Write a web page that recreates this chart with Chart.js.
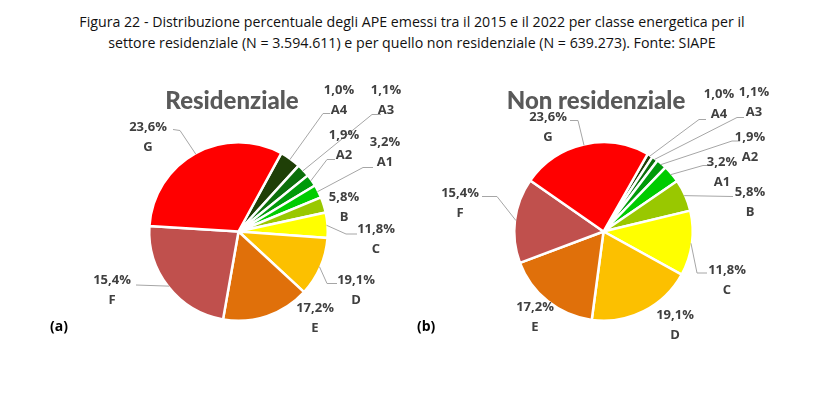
<!DOCTYPE html>
<html><head><meta charset="utf-8">
<script src="https://cdn.jsdelivr.net/npm/chart.js@4/dist/chart.umd.min.js"></script>
<style>
html,body{margin:0;padding:0;background:#fff;}
#wrap{position:relative;width:824px;height:395px;overflow:hidden;background:#fff;}
canvas{position:absolute;left:0;top:0;}
.title{position:absolute;left:0;width:824px;text-align:center;font-family:"Open Sans",sans-serif;font-size:14.2px;color:#111;white-space:nowrap;}
.tag{position:absolute;font-family:"Open Sans",sans-serif;font-weight:bold;font-size:14px;color:#000;}
.ptitle{position:absolute;font-family:"Lato",sans-serif;font-weight:900;font-size:24px;color:#595959;white-space:nowrap;transform:translateX(-50%);}
</style></head>
<body>
<div id="wrap">
<div class="title" style="top:12px">Figura 22 - Distribuzione percentuale degli APE emessi tra il 2015 e il 2022 per classe energetica per il</div>
<div class="title" style="top:33px">settore residenziale (N = 3.594.611) e per quello non residenziale (N = 639.273). Fonte: SIAPE</div>
<canvas id="ca" width="824" height="395"></canvas>
<canvas id="cb" width="824" height="395"></canvas>
<div class="ptitle" style="left:232px;top:85px">Residenziale</div>
<div class="ptitle" style="left:596px;top:85px">Non residenziale</div>
<div class="tag" style="left:50px;top:316px">(a)</div>
<div class="tag" style="left:417px;top:316px">(b)</div>
</div>
<script>
// ---- data ----
const categories = ['A4','A3','A2','A1','B','C','D','E','F','G'];
const residentialShares = [3.8, 2.4, 2.2, 2.4, 2.8, 4.6, 10.7, 15.9, 23.2, 32.0];
const nonResidentialShares = [1.0, 1.1, 1.9, 3.2, 5.8, 11.8, 19.1, 17.2, 15.4, 23.6];
// percentage labels as printed (same text on both pies in the source figure)
const printedLabels = ['1,0%','1,1%','1,9%','3,2%','5,8%','11,8%','19,1%','17,2%','15,4%','23,6%'];

// ---- styles / layout ----
const sliceColors = ['#1f3f07','#0b700b','#009a0a','#00cc00','#99c800','#ffff00','#fcc000','#e0700a','#c0504d','#ff0000'];

const layoutA = [
  {t:[339,90],  leader:[[330,113.5],[323,113.5]]},
  {t:[386,90],  leader:[[381,114.5],[372,114.5]]},
  {t:[344,135], leader:[[335,159.5],[327,159.5]]},
  {t:[385,142], leader:[[373,167.5],[363,167.5]]},
  {t:[344,197], leader:null},
  {t:[376,229], leader:[[357,234],[346,234]]},
  {t:[356,280], leader:[[337,283.5],[327,283.5]]},
  {t:[315,308], leader:null},
  {t:[112,280], leader:[[136,285]]},
  {t:[148,127], leader:[[173,129.5],[180,130.5]]}
];
const layoutB = [
  {t:[719,94],  leader:[[706,119.5],[699,119.5]]},
  {t:[754,92],  leader:[[744,117.5],[737,117.5]]},
  {t:[750,137], leader:[[740,141],[732,141]]},
  {t:[722,162], leader:[[712,165.5],[703,165.5]]},
  {t:[750,192], leader:[[733,196.5]]},
  {t:[727,270], leader:[[707,273],[697,273]]},
  {t:[675,315], leader:null},
  {t:[535,307], leader:null},
  {t:[460,193], leader:[[482,196.5],[497,196.5]]},
  {t:[548,117], leader:[[570,120.5],[578,120.5]]}
];

const pieLabels = {
  id:'pieLabels',
  afterDatasetsDraw(chart, args, opts){
    const ctx = chart.ctx;
    const meta = chart.getDatasetMeta(0);
    ctx.save();
    meta.data.forEach((arc,i)=>{
      const p = arc.getProps(['x','y','startAngle','endAngle','outerRadius'], true);
      const mid = (p.startAngle+p.endAngle)/2;
      const ex = p.x + Math.cos(mid)*(p.outerRadius-1);
      const ey = p.y + Math.sin(mid)*(p.outerRadius-1);
      const lay = opts.layout[i];
      if (lay.leader){
        ctx.strokeStyle = '#a6a6a6';
        ctx.lineWidth = 1;
        ctx.beginPath();
        ctx.moveTo(lay.leader[0][0], lay.leader[0][1]);
        for (let k=1;k<lay.leader.length;k++) ctx.lineTo(lay.leader[k][0], lay.leader[k][1]);
        ctx.lineTo(ex, ey);
        ctx.stroke();
      }
      ctx.fillStyle = '#404040';
      ctx.font = 'bold 13px "Open Sans", sans-serif';
      ctx.textAlign = 'center';
      ctx.textBaseline = 'middle';
      ctx.fillText(opts.texts[i], lay.t[0], lay.t[1]);
      ctx.fillText(chart.data.labels[i], lay.t[0], lay.t[1]+20);
    });
    ctx.restore();
  }
};

function makePie(id, values, rotation, pad, layout){
  return new Chart(document.getElementById(id), {
    type:'pie',
    data:{ labels:categories, datasets:[{ data:values, backgroundColor:sliceColors, borderColor:'#ffffff', borderWidth:2.5 }] },
    options:{
      responsive:false, animation:false, rotation:rotation,
      layout:{padding:pad},
      events:[],
      plugins:{ legend:{display:false}, tooltip:{enabled:false}, title:{display:false},
        pieLabels:{layout:layout, texts:printedLabels} }
    },
    plugins:[pieLabels]
  });
}
// pie (a): centre ~ (238,231), radius ~89 ; pie (b): centre ~ (603,231)
makePie('ca', residentialShares, 28.7, {left:148, right:824-329, top:141, bottom:395-322}, layoutA);
makePie('cb', nonResidentialShares, 29.7, {left:513, right:824-694, top:141, bottom:395-322}, layoutB);
</script>
</body></html>
